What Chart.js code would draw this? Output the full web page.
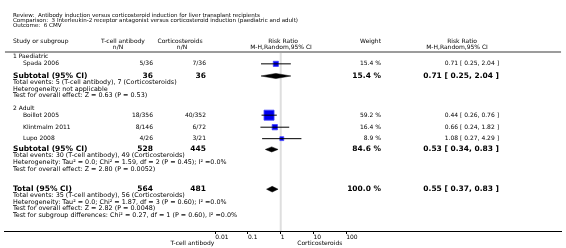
<!DOCTYPE html>
<html>
<head>
<meta charset="utf-8">
<script src="https://cdn.jsdelivr.net/npm/chart.js@4.4.0/dist/chart.umd.min.js"></script>
<style>
  html, body { margin: 0; padding: 0; background: #fff; }
  #wrap { width: 566px; height: 248px; }
</style>
</head>
<body>
<div id="wrap"><canvas id="chart-forest" width="566" height="248"></canvas></div>
<script>
// individual studies
const studyNames = ['Spada 2006', 'Boillot 2005', 'Klintmalm 2011', 'Lupo 2008'];
const tcellEvents = [5, 18, 8, 4];
const tcellTotal = [36, 356, 146, 26];
const corticoEvents = [7, 40, 6, 3];
const corticoTotal = [36, 352, 72, 21];
const studyWeight = [15.4, 59.2, 16.4, 8.9];
const studyRR = [0.71, 0.44, 0.66, 1.08];
const studyLow = [0.25, 0.26, 0.24, 0.27];
const studyHigh = [2.04, 0.76, 1.82, 4.29];

// subtotals and total
const pooledLabels = ['Subtotal (95% CI)', 'Subtotal (95% CI)', 'Total (95% CI)'];
const pooledTcellTotal = [36, 528, 564];
const pooledCorticoTotal = [36, 445, 481];
const pooledWeight = [15.4, 84.6, 100.0];
const pooledRR = [0.71, 0.53, 0.55];
const pooledLow = [0.25, 0.34, 0.37];
const pooledHigh = [2.04, 0.83, 0.83];
const pooledNotes = [
    ['Total events: 5 (T-cell antibody), 7 (Corticosteroids)',
     'Heterogeneity: not applicable',
     'Test for overall effect: Z = 0.63 (P = 0.53)'],
    ['Total events: 30 (T-cell antibody), 49 (Corticosteroids)',
     'Heterogeneity: Tau\u00B2 = 0.0; Chi\u00B2 = 1.59, df = 2 (P = 0.45); I\u00B2 =0.0%',
     'Test for overall effect: Z = 2.80 (P = 0.0052)'],
    ['Total events: 35 (T-cell antibody), 56 (Corticosteroids)',
     'Heterogeneity: Tau\u00B2 = 0.0; Chi\u00B2 = 1.87, df = 3 (P = 0.60); I\u00B2 =0.0%',
     'Test for overall effect: Z = 2.82 (P = 0.0048)',
     'Test for subgroup differences: Chi\u00B2 = 0.27, df = 1 (P = 0.60), I\u00B2 =0.0%']
];
const groupNames = ['1 Paediatric', '2 Adult'];
const titleLines = [
    'Review:  Antibody induction versus corticosteroid induction for liver transplant recipients',
    'Comparison:  3 Interleukin-2 receptor antagonist versus corticosteroid induction (paediatric and adult)',
    'Outcome:  6 CMV'
];
const axisTicks = [0.01, 0.1, 1, 10, 100];
const axisLabels = ['T-cell antibody', 'Corticosteroids'];

// layout (row positions on the y scale, column x in px)
const rows = {
    title: [10.8, 15.9, 21],
    header: [37.8, 43.2],
    rule: 48.3,
    group: [53, 106],
    study: [60.3, 112.7, 125, 136.7],
    pooled: [72.7, 147.7, 188.3],
    noteGap: 6.8
};
const cols = { left: 13, indent: 23, tcell: 153, cortico: 206, weight: 381, rr: 499 };
const FONT = 'DejaVu Sans';

const fmt2 = v => v.toFixed(2);
const ciText = (r, l, h) => fmt2(r) + ' [ ' + fmt2(l) + ', ' + fmt2(h) + ' ]';

// datasets
const datasets = [];
// reference line at RR = 1
datasets.push({
    data: [{x: 1, y: rows.rule + 1}, {x: 1, y: 231}],
    borderColor: '#dedede', borderWidth: 2, pointRadius: 0, order: 9
});
// whiskers
studyNames.forEach(function (name, i) {
    datasets.push({
        data: [{x: studyLow[i], y: rows.study[i]}, {x: studyHigh[i], y: rows.study[i]}],
        borderColor: '#000', borderWidth: 1, pointRadius: 0, order: 1
    });
});
// squares (side grows with sqrt of weight)
datasets.push({
    data: studyRR.map((v, i) => ({x: v, y: rows.study[i]})),
    showLine: false,
    pointStyle: 'rect',
    pointRadius: studyWeight.map(w => 1.3 * Math.sqrt(w) / Math.SQRT2),
    backgroundColor: '#0000f0',
    borderColor: '#4040ff',
    borderWidth: 0.8,
    order: 2
});
// diamonds
pooledRR.forEach(function (v, i) {
    const y = rows.pooled[i];
    const h = i === 2 ? 2.9 : 2.6;
    datasets.push({
        data: [
            {x: pooledLow[i], y: y}, {x: v, y: y - h},
            {x: pooledHigh[i], y: y}, {x: v, y: y + h}, {x: pooledLow[i], y: y}
        ],
        borderColor: '#000', backgroundColor: '#000', borderWidth: 0.5,
        fill: 'shape', pointRadius: 0, order: 1
    });
});

const xMin = Math.pow(10, -8.43);
const xMax = Math.pow(10, 8.57);
// header rule
datasets.push({
    data: [{x: xMin, y: rows.rule}, {x: xMax, y: rows.rule}],
    borderColor: '#9c9c9c', borderWidth: 2, pointRadius: 0, order: 8
});

function drawText(ctx, text, x, y, align, size, bold) {
    ctx.font = (bold ? 'bold ' : '') + size + 'px "' + FONT + '"';
    ctx.textAlign = align;
    ctx.textBaseline = 'middle';
    ctx.fillText(text, x, y);
}

const textPlugin = {
    id: 'forestText',
    afterDraw(chart) {
        const ctx = chart.ctx;
        const ys = chart.scales.y;
        const xs = chart.scales.x;
        const Y = v => ys.getPixelForValue(v);
        ctx.save();
        ctx.fillStyle = '#000';

        titleLines.forEach((t, i) => drawText(ctx, t, cols.left, Y(rows.title[i]), 'left', 5.55, false));

        // column headers
        drawText(ctx, 'Study or subgroup', cols.left, Y(rows.header[0]), 'left', 6, false);
        drawText(ctx, 'T-cell antibody', 123, Y(rows.header[0]), 'center', 6, false);
        drawText(ctx, 'n/N', 118, Y(rows.header[1]), 'center', 6, false);
        drawText(ctx, 'Corticosteroids', 180, Y(rows.header[0]), 'center', 6, false);
        drawText(ctx, 'n/N', 182, Y(rows.header[1]), 'center', 6, false);
        drawText(ctx, 'Risk Ratio', 283, Y(rows.header[0]), 'center', 6, false);
        drawText(ctx, 'M-H,Random,95% CI', 281, Y(rows.header[1]), 'center', 6, false);
        drawText(ctx, 'Weight', cols.weight, Y(rows.header[0]), 'right', 6, false);
        drawText(ctx, 'Risk Ratio', 462, Y(rows.header[0]), 'center', 6, false);
        drawText(ctx, 'M-H,Random,95% CI', 457, Y(rows.header[1]), 'center', 6, false);

        groupNames.forEach((g, i) => drawText(ctx, g, cols.left, Y(rows.group[i]), 'left', 6, false));

        studyNames.forEach(function (name, i) {
            const y = Y(rows.study[i]);
            drawText(ctx, name, cols.indent, y, 'left', 6, false);
            drawText(ctx, tcellEvents[i] + '/' + tcellTotal[i], cols.tcell, y, 'right', 6, false);
            drawText(ctx, corticoEvents[i] + '/' + corticoTotal[i], cols.cortico, y, 'right', 6, false);
            drawText(ctx, studyWeight[i].toFixed(1) + ' %', cols.weight, y, 'right', 6, false);
            drawText(ctx, ciText(studyRR[i], studyLow[i], studyHigh[i]), cols.rr, y, 'right', 6, false);
        });

        pooledLabels.forEach(function (label, i) {
            const y = Y(rows.pooled[i]);
            drawText(ctx, label, cols.left, y, 'left', 7.5, true);
            drawText(ctx, String(pooledTcellTotal[i]), cols.tcell, y, 'right', 7.5, true);
            drawText(ctx, String(pooledCorticoTotal[i]), cols.cortico, y, 'right', 7.5, true);
            drawText(ctx, pooledWeight[i].toFixed(1) + ' %', cols.weight, y, 'right', 7.5, true);
            drawText(ctx, ciText(pooledRR[i], pooledLow[i], pooledHigh[i]), cols.rr, y, 'right', 7.5, true);
            pooledNotes[i].forEach(function (note, k) {
                drawText(ctx, note, cols.left, Y(rows.pooled[i] + 6.4 + rows.noteGap * k), 'left', 6.4, false);
            });
        });

        // axis side labels
        const yLab = chart.chartArea.bottom + 12;
        drawText(ctx, axisLabels[0], xs.getPixelForValue(0.01) - 1, yLab, 'right', 6, false);
        drawText(ctx, axisLabels[1], xs.getPixelForValue(3.2), yLab, 'left', 6, false);
        ctx.restore();
    }
};

const ctx = document.getElementById('chart-forest').getContext('2d');
const chart = new Chart(ctx, {
    type: 'line',
    data: { datasets: datasets },
    options: {
        responsive: false,
        devicePixelRatio: 1,
        animation: false,
        layout: { padding: 0 },
        plugins: { legend: { display: false }, tooltip: { enabled: false } },
        scales: {
            x: {
                type: 'logarithmic',
                min: xMin,
                max: xMax,
                bounds: 'data',
                afterBuildTicks: function (scale) {
                    scale.ticks = axisTicks.map(v => ({ value: v }));
                },
                afterFit: function (scale) { scale.height = 17; },
                grid: { drawOnChartArea: false, drawTicks: true, tickLength: 3, color: '#000', lineWidth: 1 },
                border: { display: true, color: '#000', width: 1 },
                ticks: {
                    autoSkip: false, maxRotation: 0, minRotation: 0,
                    align: 'start', padding: 0, color: '#000',
                    font: { family: FONT, size: 6 },
                    callback: function (value) { return String(value); }
                }
            },
            y: {
                type: 'linear', min: 0, max: 231, reverse: true, display: false
            }
        }
    },
    plugins: [textPlugin]
});
</script>
</body>
</html>
